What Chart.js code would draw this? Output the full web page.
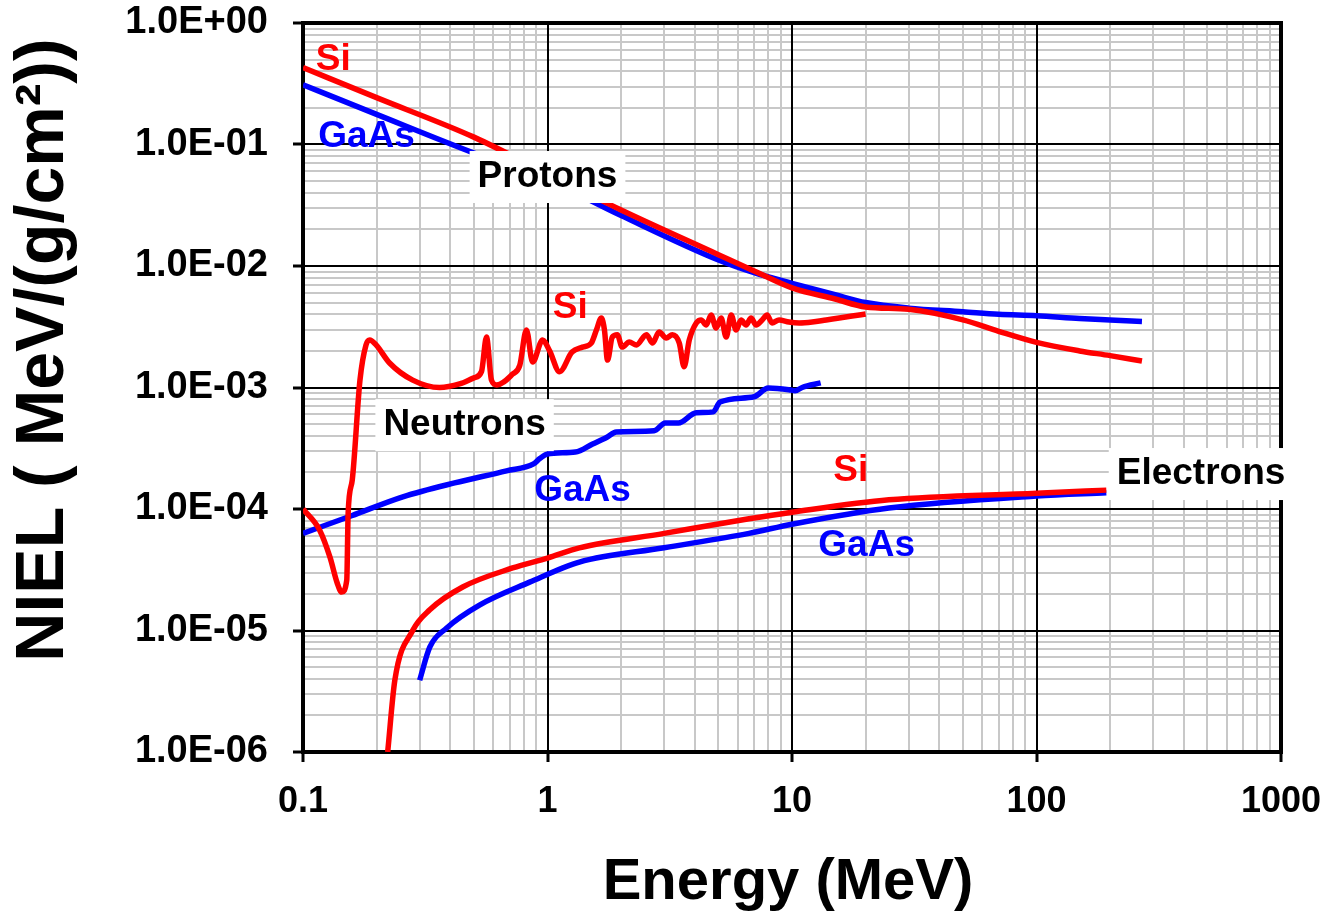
<!DOCTYPE html>
<html>
<head>
<meta charset="utf-8">
<title>NIEL vs Energy</title>
<script src="https://cdn.jsdelivr.net/npm/chart.js@4.4.0/dist/chart.umd.min.js"></script>
<style>
  body { margin: 0; background: #fff; }
  #wrap { width: 1328px; height: 920px; }
</style>
</head>
<body>
<div id="wrap"><canvas id="nielChart" width="1328" height="920"></canvas></div>
<script>
// Protons (MeV, MeV/(g/cm2))
const protonEnergy = [0.1, 0.2, 0.5, 1, 2, 5, 7, 10, 15, 20, 30, 50, 70, 100, 150, 200, 270];
const protonSi     = [0.43, 0.243, 0.115, 0.0574, 0.0289, 0.0124, 0.0091, 0.0066, 0.00535, 0.0046, 0.0044, 0.0036, 0.0029, 0.00235, 0.0020, 0.00183, 0.00165];
const protonGaAs   = [0.31, 0.177, 0.085, 0.051, 0.026, 0.0112, 0.0088, 0.0072, 0.0058, 0.0050, 0.0045, 0.0042, 0.0040, 0.0039, 0.0037, 0.0036, 0.0035];

// Neutrons
const neutronSiEnergy = [0.1, 0.117, 0.129, 0.138, 0.144, 0.151, 0.153, 0.159, 0.171, 0.181, 0.1875, 0.199, 0.226, 0.281, 0.362, 0.437, 0.50, 0.537, 0.563, 0.59, 0.62, 0.72, 0.77, 0.82, 0.869, 0.955, 1.02,
  1.12, 1.26, 1.39, 1.51, 1.585, 1.66, 1.71, 1.76, 1.84, 1.93, 2.02, 2.16, 2.31, 2.54, 2.69, 2.86, 3.06, 3.24, 3.46, 3.62, 3.80, 4.06,
  4.25, 4.46, 4.67, 4.89, 5.13, 5.38, 5.64, 5.91, 6.19, 6.49, 6.80, 7.13, 7.55, 7.91, 8.29, 8.85, 9.72, 10.7, 12.1, 13.8, 15.6, 17.6, 20];
const neutronSi = [1.0e-4, 6.7e-5, 4.0e-5, 2.46e-5, 2.07e-5, 2.6e-5, 9.3e-5, 1.73e-4, 1.15e-3, 2.24e-3, 2.46e-3, 2.24e-3, 1.59e-3, 1.15e-3, 1.0e-3, 1.07e-3, 1.2e-3, 1.35e-3, 2.6e-3, 1.15e-3, 1.05e-3, 1.29e-3, 1.52e-3, 2.97e-3, 1.62e-3, 2.46e-3, 2.0e-3,
  1.35e-3, 1.96e-3, 2.15e-3, 2.32e-3, 2.97e-3, 3.73e-3, 2.97e-3, 1.68e-3, 2.6e-3, 2.72e-3, 2.15e-3, 2.37e-3, 2.24e-3, 2.72e-3, 2.32e-3, 2.86e-3, 2.55e-3, 2.72e-3, 2.32e-3, 1.48e-3, 2.46e-3, 3.4e-3,
  3.6e-3, 3.27e-3, 3.95e-3, 3.09e-3, 3.73e-3, 2.6e-3, 3.95e-3, 2.97e-3, 3.6e-3, 3.27e-3, 3.73e-3, 3.27e-3, 3.6e-3, 3.95e-3, 3.4e-3, 3.6e-3, 3.46e-3, 3.4e-3, 3.46e-3, 3.6e-3, 3.73e-3, 3.87e-3, 4.03e-3];
const neutronGaAsEnergy = [0.1, 0.158, 0.256, 0.417, 0.68, 0.877, 0.93, 1.0, 1.3, 1.53, 1.75, 1.91, 2.73, 3.03, 3.43, 4.06, 4.76, 5.08, 7.0, 8.0, 9.7, 10.3, 11, 13.1];
const neutronGaAs = [6.3e-5, 8.8e-5, 1.26e-4, 1.64e-4, 2.06e-4, 2.35e-4, 2.6e-4, 2.84e-4, 2.94e-4, 3.43e-4, 3.9e-4, 4.3e-4, 4.4e-4, 5.1e-4, 5.1e-4, 6.2e-4, 6.3e-4, 7.6e-4, 8.4e-4, 9.9e-4, 9.6e-4, 9.4e-4, 1.0e-3, 1.09e-3];

// Electrons
const electronSiEnergy = [0.222, 0.2375, 0.281, 0.33, 0.45, 0.72, 1.0, 1.35, 3, 6.67, 10, 24.9, 100, 193];
const electronSi = [1.0e-6, 3.9e-6, 1.0e-5, 1.48e-5, 2.28e-5, 3.27e-5, 3.95e-5, 4.78e-5, 6.3e-5, 8.3e-5, 9.4e-5, 1.19e-4, 1.35e-4, 1.43e-4];
const electronGaAsEnergy = [0.30, 0.33, 0.387, 0.527, 0.845, 1.35, 3, 6.67, 10, 24.9, 100, 193];
const electronGaAs = [3.9e-6, 7.3e-6, 1.05e-5, 1.62e-5, 2.5e-5, 3.66e-5, 4.8e-5, 6.3e-5, 7.5e-5, 1.02e-4, 1.28e-4, 1.36e-4];

// Axis decades
const xDecades = [0.1, 1, 10, 100, 1000];
const yDecades = [1e-6, 1e-5, 1e-4, 1e-3, 1e-2, 1e-1, 1];

const RED = '#ff0000';
const BLUE = '#0000ff';
const FONT = '"Liberation Sans", Arial, sans-serif';

// text placed on the plot (data coordinates)
const plotLabels = [
  { text: 'Si', color: RED, x: 0.133, y: 0.50 },
  { text: 'GaAs', color: BLUE, x: 0.182, y: 0.115 },
  { text: 'Protons', color: '#000', x: 1.0, y: 0.054, box: true },
  { text: 'Si', color: RED, x: 1.24, y: 4.5e-3 },
  { text: 'Neutrons', color: '#000', x: 0.458, y: 4.9e-4, box: true },
  { text: 'GaAs', color: BLUE, x: 1.39, y: 1.4e-4 },
  { text: 'Si', color: RED, x: 17.4, y: 2.06e-4 },
  { text: 'Electrons', color: '#000', x: 471, y: 1.94e-4, box: true },
  { text: 'GaAs', color: BLUE, x: 20.2, y: 4.96e-5 }
];

function pairs(xs, ys) {
  return xs.map((x, i) => ({ x: x, y: ys[i] }));
}

function withMinors(decades) {
  const out = [];
  decades.forEach((d, i) => {
    out.push(d);
    if (i < decades.length - 1) {
      for (let k = 2; k <= 9; k++) out.push(d * k);
    }
  });
  return out;
}

function isDecade(v) {
  const l = Math.log10(v);
  return Math.abs(l - Math.round(l)) < 1e-6;
}

function sciLabel(v) {
  const e = Math.round(Math.log10(v));
  const mant = (v / Math.pow(10, e)).toFixed(1);
  return mant + 'E' + (e < 0 ? '-' : '+') + String(Math.abs(e)).padStart(2, '0');
}

function series(label, data, color) {
  return {
    label: label,
    data: data,
    borderColor: color,
    backgroundColor: color,
    borderWidth: 5.5,
    pointRadius: 0,
    fill: false,
    cubicInterpolationMode: 'monotone',
    borderJoinStyle: 'round'
  };
}

const tickColor = ctx => (ctx.tick && isDecade(ctx.tick.value)) ? '#000' : 'rgba(0,0,0,0)';

// black decade lines on top of the grey grid, then the frame; labels last
const frameAndText = {
  id: 'frameAndText',
  beforeDatasetsDraw(chart) {
    const { ctx, chartArea: a } = chart;
    const xs = chart.scales.x, ys = chart.scales.y;
    ctx.save();
    ctx.strokeStyle = '#000';
    ctx.lineWidth = 2;
    ctx.beginPath();
    xDecades.forEach(v => {
      const px = Math.round(xs.getPixelForValue(v));
      ctx.moveTo(px, a.top); ctx.lineTo(px, a.bottom);
    });
    yDecades.forEach(v => {
      const py = Math.round(ys.getPixelForValue(v));
      ctx.moveTo(a.left, py); ctx.lineTo(a.right, py);
    });
    ctx.stroke();
    ctx.lineWidth = 4;
    ctx.strokeRect(a.left, a.top, a.right - a.left, a.bottom - a.top);
    ctx.restore();
  },
  afterDraw(chart) {
    const { ctx } = chart;
    const xs = chart.scales.x, ys = chart.scales.y;
    ctx.save();
    ctx.textAlign = 'center';
    ctx.textBaseline = 'middle';
    ctx.font = 'bold 37px ' + FONT;
    plotLabels.forEach(l => {
      const px = xs.getPixelForValue(l.x);
      const py = ys.getPixelForValue(l.y);
      if (l.box) {
        const w = ctx.measureText(l.text).width + 16;
        ctx.fillStyle = '#fff';
        ctx.fillRect(px - w / 2, py - 26, w, 52);
      }
      ctx.fillStyle = l.color;
      ctx.fillText(l.text, px, py);
    });

    // axis titles
    ctx.fillStyle = '#000';
    ctx.font = 'bold 58px ' + FONT;
    ctx.fillText('Energy (MeV)', 788, 883);
    ctx.translate(44, 350);
    ctx.rotate(-Math.PI / 2);
    ctx.font = 'bold 68px ' + FONT;
    ctx.fillText('NIEL ( MeV/(g/cm\u00B2))', 0, 0);
    ctx.restore();
  }
};

new Chart(document.getElementById('nielChart'), {
  type: 'line',
  data: {
    datasets: [
      series('Protons Si', pairs(protonEnergy, protonSi), RED),
      series('Neutrons Si', pairs(neutronSiEnergy, neutronSi), RED),
      series('Electrons Si', pairs(electronSiEnergy, electronSi), RED),
      series('Protons GaAs', pairs(protonEnergy, protonGaAs), BLUE),
      series('Neutrons GaAs', pairs(neutronGaAsEnergy, neutronGaAs), BLUE),
      series('Electrons GaAs', pairs(electronGaAsEnergy, electronGaAs), BLUE)
    ]
  },
  options: {
    responsive: false,
    animation: false,
    devicePixelRatio: 1,
    layout: { padding: { top: 23, right: 47, left: 0, bottom: 0 } },
    plugins: {
      legend: { display: false },
      tooltip: { enabled: false }
    },
    scales: {
      x: {
        type: 'logarithmic',
        min: 0.1,
        max: 1000,
        afterBuildTicks: scale => { scale.ticks = withMinors(xDecades).map(v => ({ value: v })); },
        afterFit: scale => {
          scale.height = 168;
          scale.paddingLeft = 0;
          scale.paddingRight = 0;
        },
        grid: {
          color: '#c8c8c8',
          lineWidth: 2,
          tickColor: tickColor,
          tickWidth: 3,
          tickLength: 10
        },
        border: { display: true, color: '#000', width: 4 },
        ticks: {
          autoSkip: false,
          maxRotation: 0,
          padding: 18,
          color: '#000',
          font: { family: FONT, size: 36, weight: 'bold' },
          callback: v => isDecade(v) ? String(+v.toPrecision(3)) : ''
        }
      },
      y: {
        type: 'logarithmic',
        min: 1e-6,
        max: 1,
        afterBuildTicks: scale => { scale.ticks = withMinors(yDecades).map(v => ({ value: v })); },
        afterFit: scale => {
          scale.width = 303;
          scale.paddingTop = 0;
          scale.paddingBottom = 0;
        },
        grid: {
          color: '#c8c8c8',
          lineWidth: 2,
          tickColor: tickColor,
          tickWidth: 3,
          tickLength: 10
        },
        border: { display: true, color: '#000', width: 4 },
        ticks: {
          autoSkip: false,
          padding: 25,
          color: '#000',
          font: { family: FONT, size: 38, weight: 'bold' },
          callback: v => isDecade(v) ? sciLabel(v) : ''
        }
      }
    }
  },
  plugins: [frameAndText]
});
</script>
</body>
</html>
